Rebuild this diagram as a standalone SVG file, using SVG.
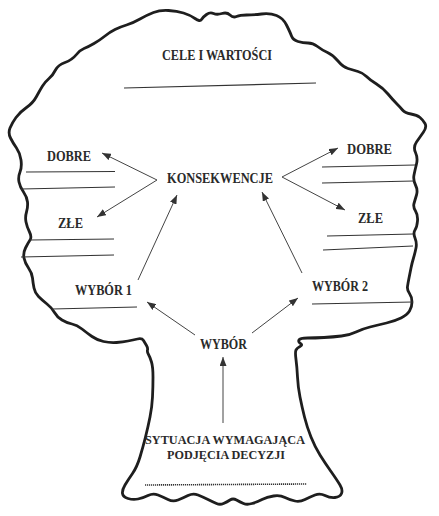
<svg xmlns="http://www.w3.org/2000/svg" width="439" height="516" viewBox="0 0 439 516">
<style>
.t{font-family:"Liberation Serif","Times New Roman",serif;font-weight:bold;font-size:14px;fill:#2a2a2a;text-anchor:middle}
.s{font-size:12.5px}
.ln{stroke:#333;stroke-width:1.2;fill:none}
.dot{stroke:#333;stroke-width:1.6;stroke-dasharray:1.2 0.8;fill:none}
.ar{stroke:#444;stroke-width:1;fill:none;marker-end:url(#ah)}
.tree{fill:#fff;stroke:#1e1e1e;stroke-width:2.8;stroke-linejoin:round}
</style>
<defs>
<marker id="ah" markerUnits="userSpaceOnUse" markerWidth="9" markerHeight="7" refX="9" refY="3.5" orient="auto">
<path d="M0,0 L9,3.5 L0,7 Z" fill="#333"/>
</marker>
</defs>
<rect width="439" height="516" fill="#fff"/>
<g id="tree">
<path class="tree" d="M143.5,340.5 Q142,338 137.5,339 Q133,340 128,341 Q123,342 116.5,342.5 Q110,343 103.5,341.5 Q97,340 92,336.5 Q87,333 82,329 Q77,325 72,324 Q67,323 62,320 Q57,317 54.5,312.5 Q52,308 47,304 Q42,300 38.5,296.5 Q35,293 34,288 Q33,283 32.5,278 Q32,273 28.5,268 Q25,263 24,258 Q23,253 25.5,248 Q28,243 30,240 Q32,237 29.5,232 Q27,227 26,222 Q25,217 26.5,212 Q28,207 27.5,202 Q27,197 23.5,192 Q20,187 19,182 Q18,177 20,172 Q22,167 21,160 Q20,153 16.5,148 Q13,143 10.5,138 Q8,133 10,128 Q12,123 16,117.5 Q20,112 26.5,107.5 Q33,103 36.5,96.5 Q40,90 42.5,86 Q45,82 49,78.5 Q53,75 55.5,70 Q58,65 65,62.5 Q72,60 76,55 Q80,50 84,48.5 Q88,47 94,43.5 Q100,40 105,36 Q110,32 115,29.5 Q120,27 126.5,25 Q133,23 140,19 Q147,15 153.5,12.5 Q160,10 168.5,10.5 Q177,11 183.5,13 Q190,15 195,18.5 Q200,22 201.5,19.5 Q203,17 206.5,14.5 Q210,12 213.5,13.5 Q217,15 222,13.5 Q227,12 230,15 Q233,18 236.5,16.5 Q240,15 246.5,15 Q253,15 261.5,14 Q270,13 276.5,15.5 Q283,18 286.5,25 Q290,32 291.5,36 Q293,40 298,41.5 Q303,43 308,43 Q313,43 317.5,46.5 Q322,50 327.5,52.5 Q333,55 338,61 Q343,67 348,68.5 Q353,70 358,71.5 Q363,73 366.5,76.5 Q370,80 376.5,84 Q383,88 388,94 Q393,100 396.5,103.5 Q400,107 402.5,110 Q405,113 411,114 Q417,115 420,117.5 Q423,120 425,123.5 Q427,127 423.5,132 Q420,137 416.5,142 Q413,147 415.5,152.5 Q418,158 416.5,164 Q415,170 414,175 Q413,180 415.5,185 Q418,190 416.5,195 Q415,200 414,203.5 Q413,207 415.5,211 Q418,215 417.5,221 Q417,227 415,230 Q413,233 415,238 Q417,243 416,248 Q415,253 413.5,258 Q412,263 411,268 Q410,273 409,278 Q408,283 407.5,286.5 Q407,290 409.5,293.5 Q412,297 412,302 Q412,307 409.5,311 Q407,315 401,318 Q395,321 386.5,323 Q378,325 370,327 Q362,329 356,332 Q350,335 341.5,336 Q333,337 324,337.5 Q315,338 307.5,338 Q300,338 299,340 Q298,342 300.5,343.5 Q303,345 300,346.5 Q297,348 296,350 Q295,352 296,359.5 Q297,367 297.5,377 Q298,387 300,397 Q302,407 304.5,417 Q307,427 311,437 Q315,447 320,455 Q325,463 331,471.5 Q337,480 340,485 Q343,490 341.5,493.5 Q340,497 335,497.5 Q330,498 325,495.5 Q320,493 315,495 Q310,497 305,499.5 Q300,502 295,501 Q290,500 285,497.5 Q280,495 273.5,496 Q267,497 262,499.5 Q257,502 252,503.5 Q247,505 243.5,503.5 Q240,502 236.5,500 Q233,498 230,500 Q227,502 223.5,503.5 Q220,505 216.5,503.5 Q213,502 208,499.5 Q203,497 198,495 Q193,493 188,495.5 Q183,498 178,500 Q173,502 168,499.5 Q163,497 158,495 Q153,493 148,495.5 Q143,498 138,499 Q133,500 128,498.5 Q123,497 122.5,493.5 Q122,490 125,485 Q128,480 132.5,473.5 Q137,467 140,457 Q143,447 145.5,437 Q148,427 150,417 Q152,407 152.5,397 Q153,387 153,377 Q153,367 151.5,362 Q150,357 148.5,354.5 Q147,352 147.5,350 Q148,348 146.5,345.5 Q145,343 143.5,340.5 Z"/>
</g>
<g id="cele">
<text class="t" x="217" y="60" textLength="110" lengthAdjust="spacingAndGlyphs">CELE I WARTOŚCI</text>
<line class="ln" x1="124" y1="88" x2="316" y2="83"/>
</g>
<g id="konsekwencje">
<text class="t" x="220" y="183" textLength="106" lengthAdjust="spacingAndGlyphs">KONSEKWENCJE</text>
</g>
<g id="dobre-lewe">
<text class="t" x="69" y="161" textLength="44" lengthAdjust="spacingAndGlyphs">DOBRE</text>
<line class="ln" x1="26" y1="172" x2="115" y2="171.5"/>
<line class="ln" x1="21" y1="189" x2="115" y2="187"/>
</g>
<g id="zle-lewe">
<text class="t" x="70.5" y="228" textLength="25" lengthAdjust="spacingAndGlyphs">ZŁE</text>
<line class="ln" x1="30" y1="240" x2="114" y2="239"/>
<line class="ln" x1="21" y1="257" x2="114" y2="255"/>
</g>
<g id="wybor1">
<text class="t" x="103.5" y="295" textLength="57" lengthAdjust="spacingAndGlyphs">WYBÓR 1</text>
<line class="ln" x1="52" y1="309" x2="137" y2="307"/>
</g>
<g id="dobre-prawe">
<text class="t" x="369.5" y="154" textLength="45" lengthAdjust="spacingAndGlyphs">DOBRE</text>
<line class="ln" x1="322" y1="167" x2="415" y2="165"/>
<line class="ln" x1="322" y1="183" x2="414" y2="181"/>
</g>
<g id="zle-prawe">
<text class="t" x="370.5" y="223" textLength="25" lengthAdjust="spacingAndGlyphs">ZŁE</text>
<line class="ln" x1="327" y1="236" x2="413" y2="234"/>
<line class="ln" x1="323" y1="250" x2="413" y2="246"/>
</g>
<g id="wybor2">
<text class="t" x="340" y="291" textLength="56" lengthAdjust="spacingAndGlyphs">WYBÓR 2</text>
<line class="ln" x1="312" y1="304" x2="413" y2="302"/>
</g>
<g id="wybor">
<text class="t" x="223.5" y="349" textLength="47" lengthAdjust="spacingAndGlyphs">WYBÓR</text>
</g>
<g id="sytuacja">
<text class="t s" x="225" y="444" textLength="160" lengthAdjust="spacingAndGlyphs">SYTUACJA WYMAGAJĄCA</text>
<text class="t s" x="226" y="459" textLength="118" lengthAdjust="spacingAndGlyphs">PODJĘCIA DECYZJI</text>
<line class="dot" x1="145" y1="485" x2="307" y2="484"/>
</g>
<g id="connectors">
<line class="ar" x1="157" y1="180" x2="102" y2="153"/>
<line class="ar" x1="157" y1="180" x2="97" y2="217"/>
<line class="ar" x1="282" y1="177" x2="338" y2="148"/>
<line class="ar" x1="282" y1="177" x2="345" y2="210"/>
<line class="ar" x1="138" y1="280" x2="177" y2="195"/>
<line class="ar" x1="302" y1="273" x2="262" y2="192"/>
<line class="ar" x1="195" y1="335" x2="147" y2="302"/>
<line class="ar" x1="252" y1="333" x2="298" y2="298"/>
<line class="ar" x1="223" y1="423" x2="223" y2="357"/>
</g>
</svg>
